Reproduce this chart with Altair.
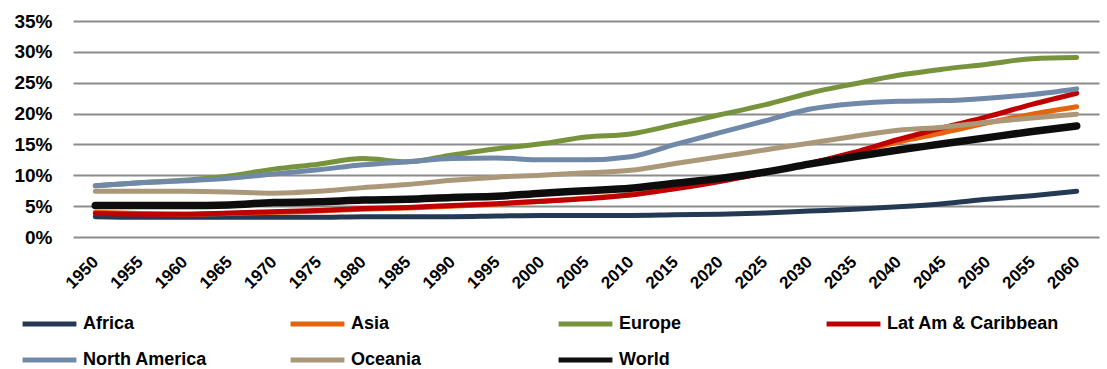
import altair as alt
import pandas as pd

years = list(range(1950, 2061, 5))

regions = ["Africa", "Asia", "Europe", "Lat Am & Caribbean",
           "North America", "Oceania", "World"]

# share of population aged 65+ (%), every five years 1950-2060
africa = [3.3, 3.2, 3.2, 3.2, 3.2, 3.2, 3.3, 3.3, 3.3, 3.4, 3.5, 3.5,
          3.5, 3.6, 3.7, 3.9, 4.2, 4.5, 4.9, 5.4, 6.1, 6.7, 7.4]
asia = [4.0, 3.8, 3.7, 3.8, 4.0, 4.2, 4.5, 4.7, 5.0, 5.3, 5.8, 6.3,
        6.9, 7.9, 9.1, 10.4, 11.9, 13.6, 15.4, 16.9, 18.5, 19.9, 21.1]
europe = [8.3, 8.8, 9.2, 9.9, 11.0, 11.8, 12.7, 12.2, 13.3, 14.3, 15.1, 16.2,
          16.7, 18.2, 19.8, 21.4, 23.3, 24.8, 26.2, 27.2, 28.0, 28.9, 29.1]
latam = [3.8, 3.7, 3.7, 3.9, 4.1, 4.3, 4.6, 4.8, 5.1, 5.4, 5.8, 6.2,
         6.8, 7.8, 9.0, 10.4, 11.9, 13.7, 15.8, 17.7, 19.5, 21.5, 23.3]
north_america = [8.3, 8.8, 9.1, 9.5, 10.2, 10.9, 11.7, 12.2, 12.7, 12.8, 12.5, 12.5,
                 13.0, 15.0, 16.9, 18.8, 20.7, 21.6, 22.0, 22.1, 22.5, 23.1, 24.0]
oceania = [7.4, 7.4, 7.4, 7.3, 7.1, 7.4, 8.0, 8.5, 9.2, 9.7, 10.0, 10.4,
           10.8, 11.9, 13.0, 14.1, 15.2, 16.3, 17.3, 17.8, 18.6, 19.3, 19.9]
world = [5.1, 5.1, 5.1, 5.2, 5.6, 5.7, 6.0, 6.1, 6.4, 6.6, 7.1, 7.5,
         7.9, 8.7, 9.5, 10.5, 11.8, 13.0, 14.1, 15.1, 16.1, 17.1, 18.0]

y_ticks = [0, 0.05, 0.10, 0.15, 0.20, 0.25, 0.30, 0.35]

colors = ["#243a54", "#e4650f", "#77933c", "#c00000",
          "#7089a8", "#ab9879", "#0d0d0d"]

series = [africa, asia, europe, latam, north_america, oceania, world]
rows = []
for i, (name, vals) in enumerate(zip(regions, series)):
    for y, v in zip(years, vals):
        rows.append({"Year": y, "Share": v / 100, "Region": name, "order": i})
df = pd.DataFrame(rows)

FONT = "Liberation Sans"

chart = alt.Chart(df).mark_line(
    interpolate="monotone", strokeCap="round", strokeJoin="round"
).encode(
    x=alt.X("Year:Q",
            scale=alt.Scale(domain=[1947.5, 2062.5], nice=False, zero=False),
            axis=alt.Axis(values=years, format="d", labelAngle=-45,
                          labelAlign="right", labelBaseline="middle",
                          labelPadding=22, ticks=False, domain=False, grid=False,
                          labelFont=FONT, labelFontWeight="bold",
                          labelFontSize=17, labelColor="black",
                          labelOverlap=False, title=None)),
    y=alt.Y("Share:Q",
            scale=alt.Scale(domain=[0, 0.35], nice=False),
            axis=alt.Axis(values=y_ticks, format=".0%",
                          ticks=False, domain=False, grid=True,
                          gridColor="#8c8c8c", gridWidth=2.2,
                          labelPadding=21, labelFont=FONT,
                          labelFontWeight="bold", labelFontSize=19,
                          labelColor="black", title=None)),
    color=alt.Color("Region:N", sort=regions,
                    scale=alt.Scale(domain=regions, range=colors),
                    legend=alt.Legend(title=None)),
    strokeWidth=alt.condition(alt.datum.Region == "World",
                              alt.value(7.5), alt.value(5)),
    order=alt.Order("order:Q"),
    detail="Region:N",
).properties(
    width=1026,
    height=216,
    autosize=alt.AutoSizeParams(type="none"),
    padding={"left": 73, "top": 21, "right": 8, "bottom": 132},
).configure_view(
    stroke=None
).configure_legend(
    orient="none",
    legendX=-53,
    legendY=293,
    direction="horizontal",
    columns=4,
    gridAlign="all",
    columnPadding=32,
    rowPadding=16,
    clipHeight=20,
    symbolType="stroke",
    symbolSize=2900,
    symbolStrokeWidth=5,
    labelFont=FONT,
    labelFontWeight="bold",
    labelFontSize=18,
    labelColor="black",
    labelOffset=4,
    labelLimit=400,
)

chart.save("out.html", embed_options={"renderer": "svg", "actions": False})
